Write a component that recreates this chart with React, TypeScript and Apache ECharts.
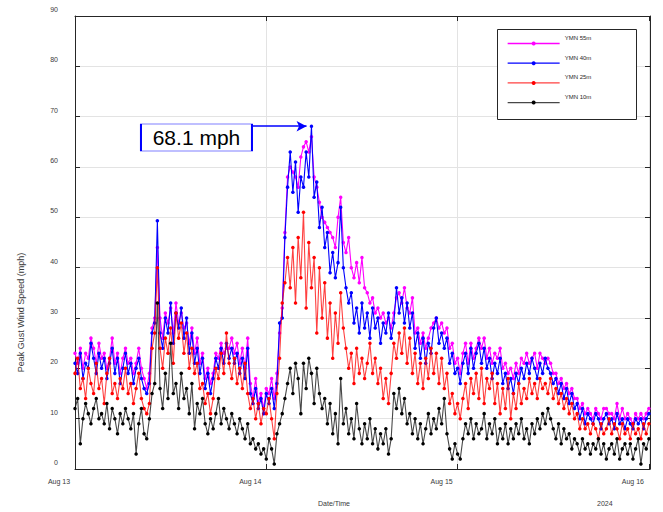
import React, { useEffect, useRef } from 'react';
import * as echarts from 'echarts';

// Time grid: 20-minute steps starting Aug 13 00:00 (hours since start)
const STEP_HOURS = 1 / 3;
const DAY_LABELS = ['Aug 13', 'Aug 14', 'Aug 15', 'Aug 16'];
const YEAR_LABEL = '2024';
const SERIES_NAMES = ['YMN 55m', 'YMN 40m', 'YMN 25m', 'YMN 10m'];
const SERIES_COLORS = ['#ff00ff', '#0000ff', '#ff0000', '#000000'];
const LINE_COLORS = ['#ff00ff', '#0000ff', 'rgba(255,0,0,0.75)', 'rgba(0,0,0,0.72)'];
const PEAK_VALUE = 68.1;
const PEAK_LABEL = '68.1 mph';

const YMN_55M = [
  23, 21, 24, 20, 23, 22, 26, 24, 21, 25,
  22, 23, 20, 22, 26, 21, 23, 19, 22, 24,
  21, 22, 19, 21, 24, 20, 18, 16, 19, 28,
  30, 44, 30, 26, 31, 29, 32, 27, 33, 29,
  31, 28, 29, 25, 28, 23, 26, 21, 23, 18,
  20, 17, 19, 23, 22, 25, 23, 24, 24, 26,
  23, 25, 21, 24, 20, 26, 17, 14, 18, 13,
  15, 12, 16, 15, 18, 14, 19, 27, 32, 47,
  58, 60, 59, 58, 56, 62, 64, 65, 63, 66,
  58, 56, 53, 50, 49, 48, 47, 46, 44, 50,
  54, 45, 43, 46, 40, 38, 41, 37, 42, 36,
  35, 33, 34, 31, 32, 30, 31, 29, 30, 28,
  31, 34, 35, 33, 36, 32, 31, 34, 27, 28,
  25, 27, 24, 26, 28, 29, 30, 28, 29, 27,
  28, 24, 25, 21, 22, 19, 23, 25, 21, 25,
  22, 24, 26, 24, 26, 22, 24, 21, 23, 22,
  24, 20, 21, 19, 20, 18, 21, 19, 22, 21,
  23, 21, 22, 23, 20, 23, 22, 21, 22, 21,
  19, 19, 17, 18, 16, 17, 15, 16, 14, 14,
  12, 13, 11, 12, 11, 10, 12, 11, 10, 12,
  12, 11, 11, 10, 13, 10, 12, 10, 11, 10,
  9, 11, 10, 11, 10, 11, 12,
];

const YMN_40M = [
  21, 19, 23, 18, 21, 20, 25, 22, 19, 23,
  20, 22, 18, 21, 24, 19, 22, 17, 20, 23,
  19, 21, 17, 20, 22, 18, 16, 15, 17, 27,
  29, 49.3, 27, 24, 30, 27, 33, 25, 31, 28,
  32, 26, 30, 23, 27, 21, 24, 19, 22, 16,
  19, 15, 18, 22, 20, 24, 21, 25, 22, 24,
  21, 23, 19, 22, 18, 24, 15, 13, 16, 12,
  14, 11, 15, 13, 16, 12, 17, 29, 30, 46,
  56, 63, 55, 61, 51, 58, 56, 63, 58, 68.1,
  54, 57, 48, 52, 44, 47, 39, 43, 38, 41,
  52, 40, 36, 33, 35, 29, 32, 27, 33, 28,
  31, 26, 32, 28, 30, 25, 29, 27, 31, 26,
  29, 36, 31, 34, 29, 33, 28, 31, 24, 27,
  22, 26, 21, 25, 23, 28, 30, 25, 27, 24,
  26, 21, 23, 19, 20, 17, 21, 23, 19, 24,
  20, 23, 25, 21, 24, 20, 22, 18, 21, 19,
  22, 17, 19, 16, 18, 15, 19, 17, 20, 18,
  21, 19, 22, 20, 18, 21, 19, 22, 20, 19,
  17, 18, 15, 17, 14, 16, 13, 15, 12, 13,
  10, 12, 9, 11, 10, 9, 11, 10, 8, 10,
  11, 9, 10, 8, 11, 9, 10, 8, 10, 9,
  8, 10, 9, 10, 8, 10, 11,
];

const YMN_25M = [
  19, 22, 16, 18, 14, 20, 17, 15, 21, 16,
  18, 13, 19, 22, 15, 17, 14, 18, 16, 20,
  15, 17, 13, 16, 19, 14, 12, 11, 13, 24,
  27, 40, 24, 20, 26, 23, 28, 21, 31, 26,
  29, 23, 27, 20, 24, 19, 21, 16, 17, 13,
  15, 11, 14, 20, 18, 23, 19, 27, 21, 18,
  22, 17, 20, 16, 21, 15, 12, 14, 10, 13,
  9, 12, 11, 14, 10, 6, 15, 22, 33, 37,
  42, 36, 44, 33, 46, 38, 51, 32, 45, 36,
  42, 27, 40, 30, 37, 26, 33, 22, 31, 25,
  35, 28, 24, 20, 23, 17, 24, 19, 22, 18,
  21, 25, 19, 22, 17, 20, 14, 18, 13, 19,
  25, 22, 27, 23, 28, 21, 26, 19, 23, 17,
  21, 16, 22, 18, 24, 19, 23, 17, 22, 16,
  19, 13, 15, 11, 13, 10, 14, 17, 12, 18,
  15, 19, 14, 20, 13, 18, 16, 19, 13, 17,
  11, 16, 12, 18, 10, 15, 12, 17, 13, 16,
  14, 18, 15, 17, 14, 18, 16, 17, 15, 18,
  14, 16, 13, 15, 12, 14, 11, 13, 10, 11,
  8, 10, 8, 9, 7, 9, 8, 6, 9, 7,
  8, 10, 7, 9, 8, 6, 9, 7, 8, 6,
  9, 7, 8, 6, 9, 7, 9,
];

const YMN_10M = [
  12, 14, 5, 10, 13, 11, 9, 12, 14, 10,
  11, 9, 13, 8, 12, 10, 7, 11, 9, 12,
  10, 8, 11, 3, 9, 12, 7, 6, 10, 15,
  17, 33, 16, 12, 19, 14, 25, 15, 17, 12,
  19, 14, 16, 11, 17, 8, 13, 11, 14, 9,
  7, 10, 8, 11, 14, 9, 12, 10, 8, 11,
  9, 7, 10, 8, 6, 9, 5, 6, 4, 5,
  3, 4, 2, 6, 4, 1, 7, 9, 11, 14,
  17, 20, 15, 21, 18, 11, 21, 16, 22, 19,
  13, 20, 15, 12, 14, 9, 13, 7, 11, 5,
  18, 9, 12, 7, 10, 6, 13, 8, 5, 9,
  6, 10, 5, 8, 4, 7, 5, 8, 3, 6,
  15, 12, 16, 11, 14, 9, 11, 7, 10, 6,
  9, 5, 8, 11, 7, 10, 8, 12, 9, 14,
  7, 4, 2, 5, 3, 2, 6, 9, 7, 10,
  6, 9, 7, 8, 11, 6, 9, 7, 10, 5,
  8, 6, 9, 5, 8, 6, 9, 7, 10, 6,
  8, 5, 9, 7, 10, 8, 11, 9, 12, 10,
  8, 6, 9, 5, 8, 6, 7, 4, 6, 5,
  3, 6, 4, 5, 3, 5, 4, 6, 3, 5,
  2, 4, 5, 3, 6, 2, 4, 5, 3, 5,
  2, 4, 6, 1, 5, 4, 6,
];

const ALL_VALUES = [YMN_55M, YMN_40M, YMN_25M, YMN_10M];

const FONT = 'Liberation Sans, Arial, Helvetica, sans-serif';
const AXIS_COLOR = '#262626';
const TEXT_COLOR = '#3a3a3a';
const GRID_COLOR = '#e3e3e3';
const X_MAX = 72.14;

export default function App() {
  const ref = useRef<HTMLDivElement>(null);

  useEffect(() => {
    document.body.style.margin = '0';
    const chart = echarts.init(ref.current as HTMLDivElement, null, { renderer: 'svg' });
    const hours = YMN_10M.map((_, i) => i * STEP_HOURS);

    const series: any[] = ALL_VALUES.map((vals, k) => ({
      name: SERIES_NAMES[k],
      type: 'line',
      data: vals.map((v, i) => [hours[i], v]),
      symbol: 'circle',
      symbolSize: 3.5,
      showSymbol: true,
      showAllSymbol: true,
      lineStyle: { color: LINE_COLORS[k], width: 1.1 },
      itemStyle: { color: SERIES_COLORS[k] },
      emphasis: { disabled: true },
      z: 2 + k,
    }));

    series[1].markLine = {
      silent: true,
      symbol: ['none', 'arrow'],
      symbolSize: [8, 10],
      lineStyle: { color: '#0000ff', width: 1.5, type: 'solid' },
      label: { show: false },
      data: [[{ coord: [20.45, PEAK_VALUE] }, { coord: [29.05, PEAK_VALUE] }]],
    };
    series[1].markPoint = {
      silent: true,
      symbol: 'rect',
      symbolSize: [111, 27],
      itemStyle: { color: '#ffffff', borderColor: '#0000ff', borderWidth: 1 },
      label: {
        show: true,
        position: 'inside',
        formatter: PEAK_LABEL,
        color: '#000000',
        fontSize: 21,
        fontFamily: FONT,
      },
      data: [{ coord: [15.24, 65.86] }],
    };

    const xCommon = { type: 'value', min: 0, max: X_MAX, interval: 24 };
    const yCommon = { type: 'value', min: 0, max: 90, interval: 10 };
    const frameLine = { show: true, onZero: false, lineStyle: { color: AXIS_COLOR, width: 1 } };
    const frameTick = { show: true, inside: true, length: 5, lineStyle: { color: AXIS_COLOR } };

    chart.setOption({
      animation: false,
      textStyle: { fontFamily: FONT },
      grid: { left: 75, top: 16, width: 575, height: 453 },
      xAxis: [
        {
          ...xCommon,
          position: 'bottom',
          axisLine: frameLine,
          axisTick: frameTick,
          axisLabel: {
            fontSize: 7,
            color: TEXT_COLOR,
            fontFamily: FONT,
            margin: 9,
            padding: [0, 32, 0, 0],
            formatter: (v: number) => (v % 24 === 0 ? DAY_LABELS[v / 24] : ''),
          },
          splitLine: { show: true, lineStyle: { color: GRID_COLOR, width: 1 } },
          name: 'Date/Time',
          nameLocation: 'middle',
          nameGap: 31,
          nameTextStyle: { fontSize: 7, color: TEXT_COLOR, fontFamily: FONT, padding: [0, 57, 0, 0] },
        },
        {
          ...xCommon,
          position: 'top',
          axisLine: frameLine,
          axisTick: frameTick,
          axisLabel: { show: false },
          splitLine: { show: false },
        },
      ],
      yAxis: [
        {
          ...yCommon,
          position: 'left',
          axisLine: frameLine,
          axisTick: frameTick,
          axisLabel: {
            fontSize: 7,
            color: TEXT_COLOR,
            fontFamily: FONT,
            margin: 17,
            verticalAlign: 'bottom',
            lineHeight: 13,
          },
          splitLine: { show: true, lineStyle: { color: GRID_COLOR, width: 1 } },
          name: 'Peak Gust Wind Speed (mph)',
          nameLocation: 'middle',
          nameGap: 50,
          nameTextStyle: { fontSize: 9, color: TEXT_COLOR, fontFamily: FONT, padding: [0, 140, 0, 0] },
        },
        {
          ...yCommon,
          position: 'right',
          axisLine: frameLine,
          axisTick: frameTick,
          axisLabel: { show: false },
          splitLine: { show: false },
        },
      ],
      legend: {
        orient: 'vertical',
        left: 502,
        top: 30,
        itemWidth: 52,
        itemHeight: 5,
        itemGap: 9.2,
        data: SERIES_NAMES,
        formatter: '{t|{name}}',
        lineStyle: { width: 1.3 },
        textStyle: {
          fontSize: 6,
          color: AXIS_COLOR,
          fontFamily: FONT,
          rich: { t: { fontSize: 6, color: AXIS_COLOR, fontFamily: FONT, padding: [0, 0, 11, 0] } },
        },
        z: 10,
      },
      graphic: [
        {
          type: 'rect',
          left: 497,
          top: 29,
          z: 5,
          shape: { width: 139, height: 90 },
          style: { fill: '#ffffff', stroke: AXIS_COLOR, lineWidth: 1 },
        },
        {
          type: 'text',
          left: 597,
          top: 500,
          style: { text: YEAR_LABEL, fontSize: 7, fill: TEXT_COLOR, fontFamily: FONT },
        },
      ],
      series,
    });

    return () => chart.dispose();
  }, []);

  return <div ref={ref} style={{ width: 663, height: 512 }} />;
}
